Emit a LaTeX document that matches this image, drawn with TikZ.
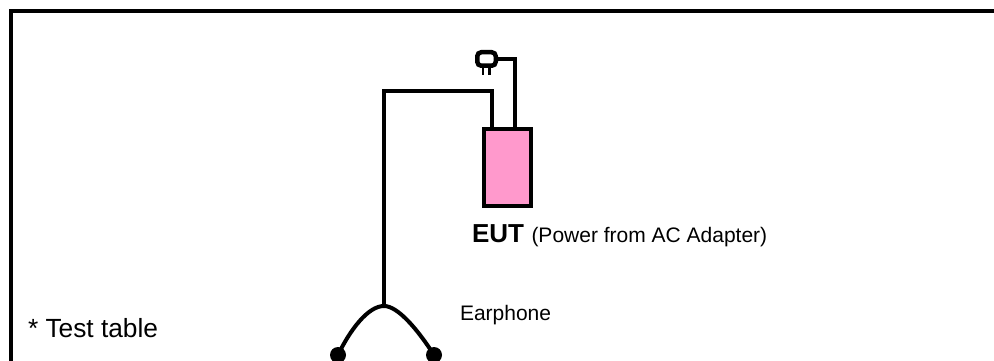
\documentclass[tikz,border=0pt]{standalone}
\usepackage{fontspec}
\setmainfont{Liberation Sans}
\usetikzlibrary{positioning}
\definecolor{eutpink}{HTML}{FF99CC}
\tikzset{
every picture/.style={
line width=4pt
},
eutbox/.style={draw, fill=eutpink, minimum width=47pt, minimum height=77pt, inner sep=0pt},
plugbox/.style={draw, line width=4.5pt, rounded corners=4pt, minimum width=18.5pt, minimum height=13.5pt, inner sep=0pt},
earbud/.style={circle, fill=black, minimum size=16pt, inner sep=0pt},
label/.style={inner sep=0pt, anchor=base west}
}

\begin{document}
\begin{tikzpicture}[x=1pt,y=-1pt,line join=miter]
\clip (0,0) rectangle (994,361);
\useasboundingbox (0,0) rectangle (994,361);

% frame, open at the right and at the bottom
\coordinate (frametop) at (994,11);
\coordinate (framecorner) at (11,11);
\coordinate (framebottom) at (11,361);
\draw (frametop) -- (framecorner) -- (framebottom);

\node[eutbox] (eut) at (507.5,167.5) {};
\node[plugbox] (plug) at (486.5,59) {};
\coordinate (eutpower) at (515,129);
\coordinate (eutear) at (492,129);
\coordinate (earsplit) at (384,306);
\node[earbud] (budleft) at (338,355) {};
\node[earbud] (budright) at (434,355) {};

% plug pins
\coordinate (pinatop) at (483,68);
\coordinate (pinabot) at (483,75);
\coordinate (pinbtop) at (489.5,68);
\coordinate (pinbbot) at (489.5,75);
\draw[line width=2.5pt] (pinatop) -- (pinabot) (pinbtop) -- (pinbbot);

% cables
\draw (plug.east) -| (eutpower);
\coordinate (earbend) at (384,91);
\draw (eutear) |- (earbend) -- (earsplit);
\draw (budleft.center) .. controls (350,330) and (368,306) .. (earsplit)
 .. controls (398,306) and (418,330) .. (budright.center);

\node[label, font=\fontsize{26.3}{30}\selectfont] (testtable) at (26,337) {* Test table};
\node[label, font=\fontsize{26}{30}\selectfont\bfseries] (euttext) at (470,242) {EUT};
\node[label, font=\fontsize{21}{25}\selectfont] (eutnote) at (529.5,242) {(Power from AC Adapter)};
\node[label, font=\fontsize{21}{25}\selectfont] (earphone) at (458,320) {Earphone};
\end{tikzpicture}
\end{document}
